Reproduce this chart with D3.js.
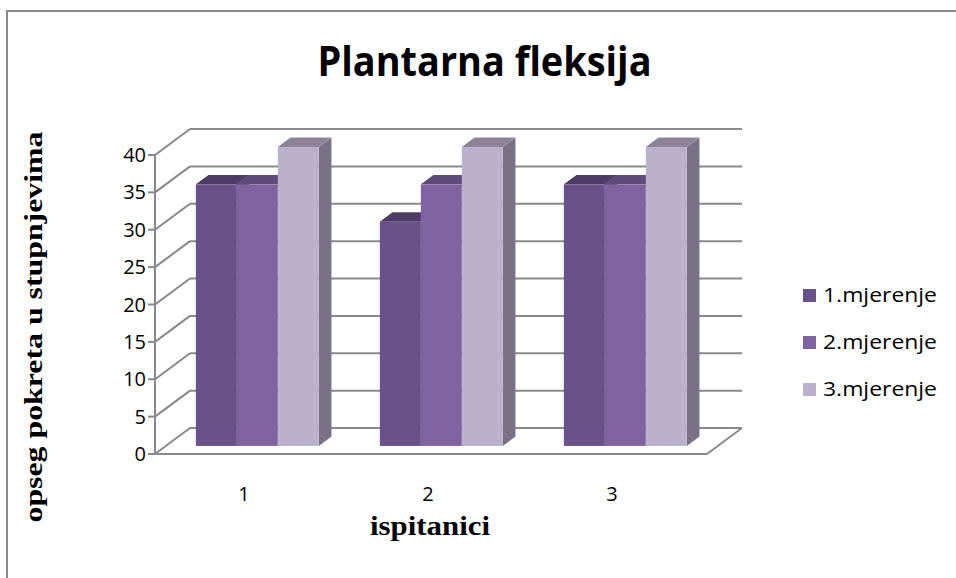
<!DOCTYPE html>
<html><head><meta charset="utf-8">
<script src="https://cdn.jsdelivr.net/npm/d3@7"></script>
<style>html,body{margin:0;padding:0;background:#fff;overflow:hidden}</style>
</head><body>
<svg id="c" width="956" height="578"></svg>
<script>
const categories = ["1", "2", "3"];
const seriesNames = ["1.mjerenje", "2.mjerenje", "3.mjerenje"];
const mjerenje1 = [35, 30, 35];
const mjerenje2 = [35, 35, 35];
const mjerenje3 = [40, 40, 40];
const yTickValues = [0, 5, 10, 15, 20, 25, 30, 35, 40];
const titleText = "Plantarna fleksija";
const yTitle = "opseg pokreta u stupnjevima";
const xTitle = "ispitanici";

const seriesValues = [mjerenje1, mjerenje2, mjerenje3];
const frontColors = ["#69518a", "#8064a2", "#bcb1cd"];
const topColors = ["#4e3c67", "#5f4b7a", "#8d8399"];
const sideColors = ["#4a3a60", "#5d4a77", "#7a7088"];

const svg = d3.select("#c");
const gridColor = "#898989";

const depth = {dx: 35, dy: -26};
const y = d3.scaleLinear().domain([0, 40]).range([454, 155]);
const x0 = d3.scaleBand().domain(categories).range([155, 707]).padding(0);
const x1 = d3.scaleBand().domain(d3.range(seriesNames.length)).range([30, x0.bandwidth() - 31]).padding(0);
const t0 = 0.31, t1 = 0.67;

svg.append("rect").attr("x", 7).attr("y", 11).attr("width", 1200).attr("height", 1000)
  .attr("fill", "none").attr("stroke", "#8a8a8a").attr("stroke-width", 2);

const walls = svg.append("g").attr("stroke", gridColor).attr("stroke-width", 2).attr("fill", "none");
yTickValues.forEach(v => {
  const yf = y(v);
  walls.append("line").attr("x1", 155 + depth.dx).attr("x2", 707 + depth.dx)
    .attr("y1", yf + depth.dy).attr("y2", yf + depth.dy);
  walls.append("line").attr("x1", 155).attr("y1", yf)
    .attr("x2", 155 + depth.dx).attr("y2", yf + depth.dy);
  walls.append("line").attr("x1", 148).attr("x2", 155).attr("y1", yf).attr("y2", yf);
});
walls.append("line").attr("x1", 155).attr("x2", 155).attr("y1", y(40)).attr("y2", y(0));
walls.append("line").attr("x1", 155).attr("x2", 707).attr("y1", y(0)).attr("y2", y(0));
walls.append("line").attr("x1", 707).attr("y1", y(0))
  .attr("x2", 707 + depth.dx).attr("y2", y(0) + depth.dy);

const bars = svg.append("g");
categories.forEach((cat, ci) => {
  seriesValues.forEach((vals, si) => {
    const v = vals[ci];
    const ox = depth.dx * t0, oy = depth.dy * t0;
    const bx = depth.dx * (t1 - t0), by = depth.dy * (t1 - t0);
    const xl = x0(cat) + x1(si) + ox;
    const xr = xl + x1.bandwidth();
    const yb = y(0) + oy;
    const yt = y(v) + oy;
    bars.append("path").attr("fill", sideColors[si])
      .attr("d", `M${xr},${yt}L${xr + bx},${yt + by}L${xr + bx},${yb + by}L${xr},${yb}Z`);
    bars.append("path").attr("fill", topColors[si])
      .attr("d", `M${xl},${yt}L${xl + bx},${yt + by}L${xr + bx},${yt + by}L${xr},${yt}Z`);
    bars.append("rect").attr("fill", frontColors[si])
      .attr("x", xl).attr("y", yt).attr("width", xr - xl).attr("height", yb - yt);
  });
});

const sans = "'Open Sans', Lato, 'DejaVu Sans', sans-serif";
svg.append("g").selectAll("text").data(yTickValues).join("text")
  .attr("x", 146).attr("y", d => y(d)).attr("dy", "0.35em")
  .attr("text-anchor", "end").attr("font-family", sans).attr("font-size", 20)
  .attr("fill", "#000").text(d => d);

svg.append("g").selectAll("text").data(categories).join("text")
  .attr("x", d => x0(d) + x0.bandwidth() / 2 - 3).attr("y", 494).attr("dy", "0.35em")
  .attr("text-anchor", "middle").attr("font-family", sans).attr("font-size", 20)
  .attr("fill", "#000").text(d => d);

svg.append("text").attr("x", 484.5).attr("y", 76).attr("text-anchor", "middle")
  .attr("font-family", sans).attr("font-weight", "bold").attr("font-size", 42)
  .attr("textLength", 334).attr("lengthAdjust", "spacingAndGlyphs")
  .attr("fill", "#000").text(titleText);

svg.append("text").attr("transform", "translate(42,327) rotate(-90)").attr("text-anchor", "middle")
  .attr("font-family", "'Liberation Serif', 'Times New Roman', serif").attr("font-weight", "bold")
  .attr("font-size", 25).attr("textLength", 391).attr("lengthAdjust", "spacingAndGlyphs")
  .attr("fill", "#000").text(yTitle);
svg.append("text").attr("x", 430).attr("y", 535).attr("text-anchor", "middle")
  .attr("font-family", "'Liberation Serif', 'Times New Roman', serif").attr("font-weight", "bold")
  .attr("font-size", 27).attr("textLength", 120).attr("lengthAdjust", "spacingAndGlyphs")
  .attr("fill", "#000").text(xTitle);

const legend = svg.append("g");
seriesNames.forEach((name, i) => {
  const cy = 295 + i * 47;
  legend.append("rect").attr("x", 803).attr("y", cy - 6).attr("width", 13).attr("height", 13)
    .attr("fill", frontColors[i]);
  legend.append("text").attr("x", 823).attr("y", cy).attr("dy", "0.35em")
    .attr("font-family", sans).attr("font-size", 20)
    .attr("textLength", 114).attr("lengthAdjust", "spacingAndGlyphs")
    .attr("fill", "#000").text(name);
});
</script>
</body></html>
